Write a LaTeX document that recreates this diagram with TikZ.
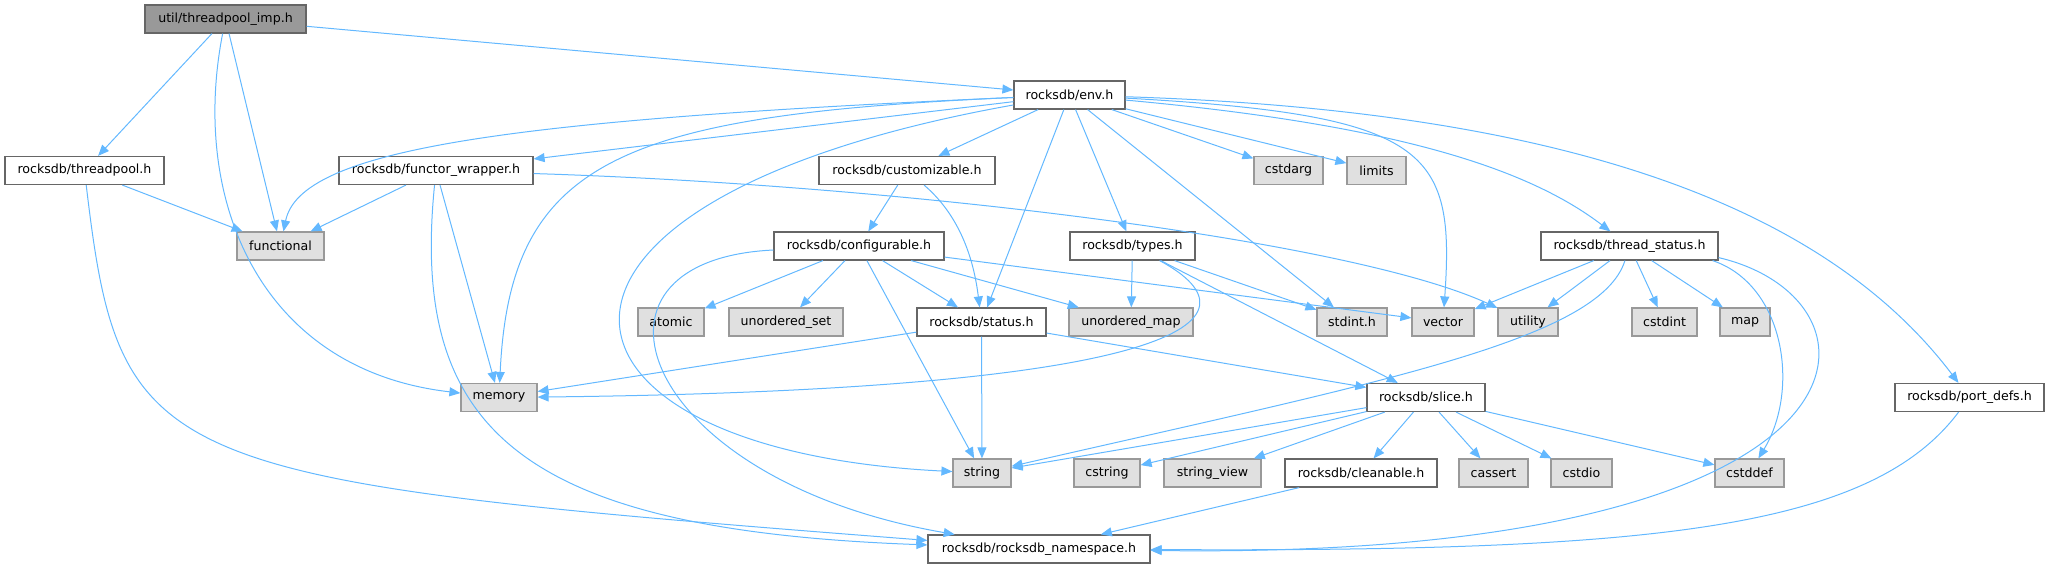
\documentclass[tikz,border=0pt]{standalone}
\usepackage{fontspec}
\setmainfont{DejaVu Sans}
\usepackage{tikz}
\usetikzlibrary{arrows.meta,positioning}
\definecolor{edgeblue}{HTML}{63B8FF}
\tikzset{hdr/.style={draw=black!60, fill=white, line width=1.2pt, minimum height=28pt, inner sep=0pt, font=\fontsize{12.6}{15}\selectfont},
  ext/.style={hdr, draw=black!40, fill=black!12},
  cur/.style={hdr, fill=black!40},
  lnk/.style={color=edgeblue, line width=1pt}}

\begin{document}
\begin{tikzpicture}[x=1pt, y=-1pt, >={Triangle[length=11pt,width=9pt]}]
\useasboundingbox (0,0) rectangle (2053,568);
% row 0 and 1
\node[cur, minimum width=161pt] (imp) at (225.5,19) {util/threadpool\_imp.h};
\node[hdr, minimum width=111pt] (env) at (1069.5,95) {rocksdb/env.h};
% row 2
\node[hdr, minimum width=159pt] (tpool) at (84.5,170.5) {rocksdb/threadpool.h};
\node[hdr, minimum width=194pt] (fwrap) at (436,170.5) {rocksdb/functor\_wrapper.h};
\node[hdr, minimum width=176pt] (cust) at (907,170.5) {rocksdb/customizable.h};
\node[ext, minimum width=69pt] (cstdarg) at (1288.5,170.5) {cstdarg};
\node[ext, minimum width=59pt] (limits) at (1376.5,170.5) {limits};
% row 3
\node[ext, minimum width=87pt] (functional) at (280.5,246) {functional};
\node[hdr, minimum width=170pt] (conf) at (859,246) {rocksdb/configurable.h};
\node[hdr, minimum width=125pt] (types) at (1132.5,246) {rocksdb/types.h};
\node[hdr, minimum width=177pt] (tstat) at (1629.5,246) {rocksdb/thread\_status.h};
% row 4
\node[ext, minimum width=66pt] (atomic) at (671,322) {atomic};
\node[ext, minimum width=114pt] (uset) at (786,322) {unordered\_set};
\node[hdr, minimum width=129pt] (status) at (981.5,322) {rocksdb/status.h};
\node[ext, minimum width=124pt] (umap) at (1131,322) {unordered\_map};
\node[ext, minimum width=70pt] (stdint) at (1352,322) {stdint.h};
\node[ext, minimum width=62pt] (vector) at (1443,322) {vector};
\node[ext, minimum width=60pt] (utility) at (1528,322) {utility};
\node[ext, minimum width=65pt] (cstdint) at (1664.5,322) {cstdint};
\node[ext, minimum width=50pt] (map) at (1745,322) {map};
% row 5
\node[ext, minimum width=76pt] (memory) at (499,397.5) {memory};
\node[hdr, minimum width=118pt] (slice) at (1426,397.5) {rocksdb/slice.h};
\node[hdr, minimum width=149pt] (pdefs) at (1969.5,397.5) {rocksdb/port\_defs.h};
% row 6
\node[ext, minimum width=58pt] (string) at (982,473) {string};
\node[ext, minimum width=66pt] (cstring) at (1107,473) {cstring};
\node[ext, minimum width=97pt] (sview) at (1212.5,473) {string\_view};
\node[hdr, minimum width=152pt] (clean) at (1361,473) {rocksdb/cleanable.h};
\node[ext, minimum width=69pt] (cassert) at (1493.5,473) {cassert};
\node[ext, minimum width=61pt] (cstdio) at (1581.5,473) {cstdio};
\node[ext, minimum width=69pt] (cstddef) at (1749.5,473) {cstddef};
% row 7
\node[hdr, minimum width=222pt] (ns) at (1039,549) {rocksdb/rocksdb\_namespace.h};

\path[->, lnk] (imp) edge (env)
		edge (tpool)
		edge (functional)
(tpool) edge (functional)
(fwrap) edge (functional)
	edge (memory)
(env) edge (fwrap)
	edge (cust)
	edge (status)
	edge (types)
	edge (stdint)
	edge (cstdarg)
	edge (limits)
(cust) edge (conf)
(conf) edge (atomic)
	edge (uset)
	edge (string)
	edge (status)
	edge (umap)
	edge (vector)
(types) edge (umap)
	edge (slice)
	edge (stdint)
(tstat) edge (vector)
	edge (utility)
	edge (cstdint)
	edge (map)
(status) edge (memory)
	edge (string)
	edge (slice)
(slice) edge (string)
	edge (cstring)
	edge (sview)
	edge (clean)
	edge (cassert)
	edge (cstdio)
	edge (cstddef)
(clean) edge (ns)
;
% the bent ones
\draw[->, lnk] (imp) .. controls (190,200) and (260,370) .. (memory);
\draw[->, lnk] (tpool) .. controls (120,470) and (150,480) .. (ns);
\draw[->, lnk] (fwrap) .. controls (410,430) and (520,530) .. (ns);
\draw[->, lnk] (fwrap) .. controls (900,185) and (1350,240) .. (utility);
\draw[->, lnk] (env) .. controls (500,120) and (300,150) .. (functional);
\draw[->, lnk] (env) .. controls (620,115) and (510,160) .. (memory);
\draw[->, lnk] (env) .. controls (480,200) and (520,450) .. (string);
\draw[->, lnk] (env) .. controls (1430,115) and (1455,150) .. (vector);
\draw[->, lnk] (env) .. controls (1400,125) and (1530,170) .. (tstat);
\draw[->, lnk] (env) .. controls (1550,110) and (1820,200) .. (pdefs);
\draw[->, lnk] (cust) .. controls (965,220) and (975,270) .. (status);
\draw[->, lnk] (conf) .. controls (560,260) and (640,480) .. (ns);
\draw[->, lnk] (types) .. controls (1270,320) and (1180,390) .. (memory);
\draw[->, lnk] (tstat) .. controls (1600,340) and (1380,382) .. (string);
\draw[->, lnk] ([xshift=-6pt]tstat.south east) .. controls (1785,285) and (1800,390) .. (cstddef);
\draw[->, lnk] ([yshift=3pt]tstat.south east) .. controls (1900,300) and (1900,560) .. (ns);
\draw[->, lnk] (pdefs) .. controls (1870,530) and (1650,552) .. (ns);
\end{tikzpicture}
\end{document}
